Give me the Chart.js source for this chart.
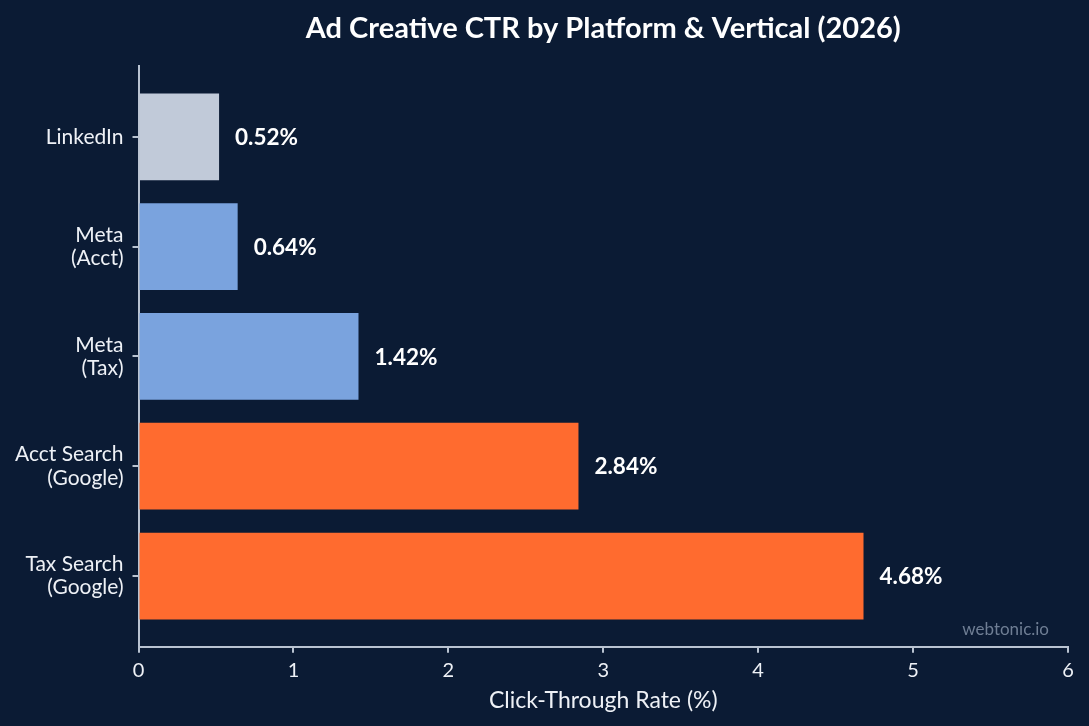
<!DOCTYPE html>
<html>
<head>
<meta charset="utf-8">
<script src="https://cdn.jsdelivr.net/npm/chart.js@4"></script>
<style>
  html, body { margin: 0; padding: 0; background: #0b1b34; }
  #wrap { width: 1089px; height: 726px; position: relative; }
</style>
</head>
<body>
<div id="wrap"><canvas id="ctrChart"></canvas></div>
<script>
const chartTitle = "Ad Creative CTR by Platform & Vertical (2026)";
const platforms = [
    ["LinkedIn"],
    ["Meta", "(Acct)"],
    ["Meta", "(Tax)"],
    ["Acct Search", "(Google)"],
    ["Tax Search", "(Google)"]
];
const ctrValues = [0.52, 0.64, 1.42, 2.84, 4.68];
const barColors = ["#c1cad9", "#7aa3de", "#7aa3de", "#ff6b2f", "#ff6b2f"];
const xTicks = [0, 1, 2, 3, 4, 5, 6];

const axisColor = "#b9c3d1";
const textColor = "#eef1f6";
const fontFamily = "Lato, 'Open Sans', sans-serif";

// title centred over the plot area, value labels, watermark
const extras = {
    id: "extras",
    afterDatasetsDraw(chart) {
        const ctx = chart.ctx;
        const area = chart.chartArea;
        const meta = chart.getDatasetMeta(0);
        ctx.save();
        ctx.font = "bold 22.5px " + fontFamily;
        ctx.fillStyle = "#ffffff";
        ctx.textAlign = "left";
        ctx.textBaseline = "middle";
        meta.data.forEach((bar, i) => {
            ctx.fillText(ctrValues[i].toFixed(2) + "%", bar.x + 16, bar.y + 1);
        });

        ctx.font = "bold 29px " + fontFamily;
        ctx.textAlign = "center";
        ctx.fillText(chartTitle, (area.left + area.right) / 2, 29);

        ctx.font = "17px " + fontFamily;
        ctx.fillStyle = "#6f7e94";
        ctx.textAlign = "right";
        ctx.fillText("webtonic.io", area.right - 19, area.bottom - 17);
        ctx.restore();
    }
};

const ctx = document.getElementById("ctrChart").getContext("2d");

new Chart(ctx, {
    type: "bar",
    data: {
        datasets: [{
            data: platforms.map((p, i) => ({ x: ctrValues[i], y: i })),
            backgroundColor: barColors,
            borderWidth: 0,
            barPercentage: 0.79,
            categoryPercentage: 1
        }]
    },
    options: {
        indexAxis: "y",
        responsive: true,
        maintainAspectRatio: false,
        animation: false,
        layout: {
            padding: { top: 66, right: 21, bottom: 13, left: 6 }
        },
        plugins: {
            legend: { display: false },
            tooltip: { enabled: false },
            title: { display: false }
        },
        scales: {
            x: {
                type: "linear",
                min: 0,
                max: 6,
                afterBuildTicks: axis => {
                    axis.ticks = xTicks.map(v => ({ value: v }));
                },
                ticks: {
                    color: textColor,
                    font: { family: fontFamily, size: 20 },
                    padding: 6
                },
                grid: {
                    drawOnChartArea: false,
                    drawTicks: true,
                    tickLength: 6,
                    color: axisColor,
                    lineWidth: 2
                },
                border: { color: axisColor, width: 2 },
                title: {
                    display: true,
                    text: "Click-Through Rate (%)",
                    color: textColor,
                    font: { family: fontFamily, size: 23, lineHeight: 1.05 },
                    padding: { top: 0, bottom: 0 }
                }
            },
            y: {
                type: "linear",
                reverse: true,
                offset: false,
                min: -0.645,
                max: 4.645,
                afterBuildTicks: axis => {
                    axis.ticks = platforms.map((p, i) => ({ value: i }));
                },
                ticks: {
                    color: textColor,
                    font: { family: fontFamily, size: 21, lineHeight: 1.1 },
                    padding: 9,
                    callback: value => platforms[value]
                },
                grid: {
                    offset: false,
                    drawOnChartArea: false,
                    drawTicks: true,
                    tickLength: 6,
                    color: axisColor,
                    lineWidth: 2
                },
                border: { color: axisColor, width: 2 }
            }
        }
    },
    plugins: [extras]
});
</script>
</body>
</html>
